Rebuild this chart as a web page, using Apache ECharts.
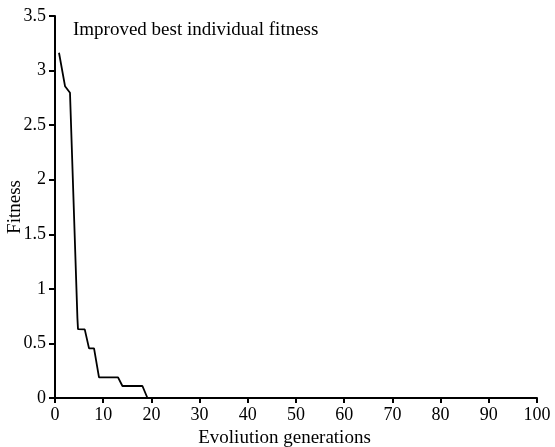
<!DOCTYPE html>
<html lang="en">

<head>
    <meta charset="UTF-8">
    <title>Improved best individual fitness</title>
    <script src="https://cdn.jsdelivr.net/npm/echarts@6/dist/echarts.min.js"></script>
    <style>
        body { margin: 0; background: #fff; }
    </style>
</head>

<body>
    <div id="main" style="width: 555px;height:447px;"></div>

    <script type="text/javascript">
        // 进化代数
        var generations = [0.83, 2.08, 3.11, 4.65, 4.77, 4.77, 6.17, 7.06, 8.10, 9.13, 13.08, 13.99, 18.14, 19.18, 100];
        // 最优个体适应度
        var fitness = [3.163, 2.857, 2.797, 0.732, 0.73, 0.631, 0.629, 0.455, 0.455, 0.189, 0.189, 0.11, 0.11, 0, 0];

        var serif = 'Liberation Serif';

        var data = generations.map(function (g, i) { return [g, fitness[i]]; });

        var option = {
            animation: false,
            title: {
                text: 'Improved best individual fitness',
                left: 68,
                top: 16,
                textStyle: { fontFamily: serif, fontSize: 19, fontWeight: 'normal', color: '#000' }
            },
            grid: { left: 55, right: 18, top: 16, bottom: 49, containLabel: false, outerBoundsMode: 'none' },
            xAxis: {
                type: 'value',
                min: 0,
                max: 100,
                interval: 10,
                name: 'Evoliution generations',
                nameLocation: 'middle',
                nameGap: 27,
                nameTextStyle: { fontFamily: serif, fontSize: 19, color: '#000', padding: [0, 23, 0, 0] },
                axisLine: { lineStyle: { color: '#000', width: 2 } },
                axisTick: { length: 5, lineStyle: { color: '#000', width: 2 } },
                axisLabel: { fontFamily: serif, fontSize: 18, color: '#000', margin: 8 },
                splitLine: { show: false }
            },
            yAxis: {
                type: 'value',
                min: 0,
                max: 3.5,
                interval: 0.5,
                name: 'Fitness',
                nameLocation: 'middle',
                nameGap: 30,
                nameMoveOverlap: false,
                nameTextStyle: { fontFamily: serif, fontSize: 19, color: '#000' },
                axisLine: { show: true, lineStyle: { color: '#000', width: 2 } },
                axisTick: { show: true, length: 6, lineStyle: { color: '#000', width: 2 } },
                axisLabel: { fontFamily: serif, fontSize: 18, color: '#000', margin: 9 },
                splitLine: { show: false }
            },
            series: [{
                name: 'Improved best individual fitness',
                type: 'line',
                showSymbol: false,
                lineStyle: { color: '#000', width: 1.8 },
                data: data
            }]
        };

        var myChart = echarts.init(document.getElementById('main'));
        myChart.setOption(option);
    </script>
</body>

</html>
